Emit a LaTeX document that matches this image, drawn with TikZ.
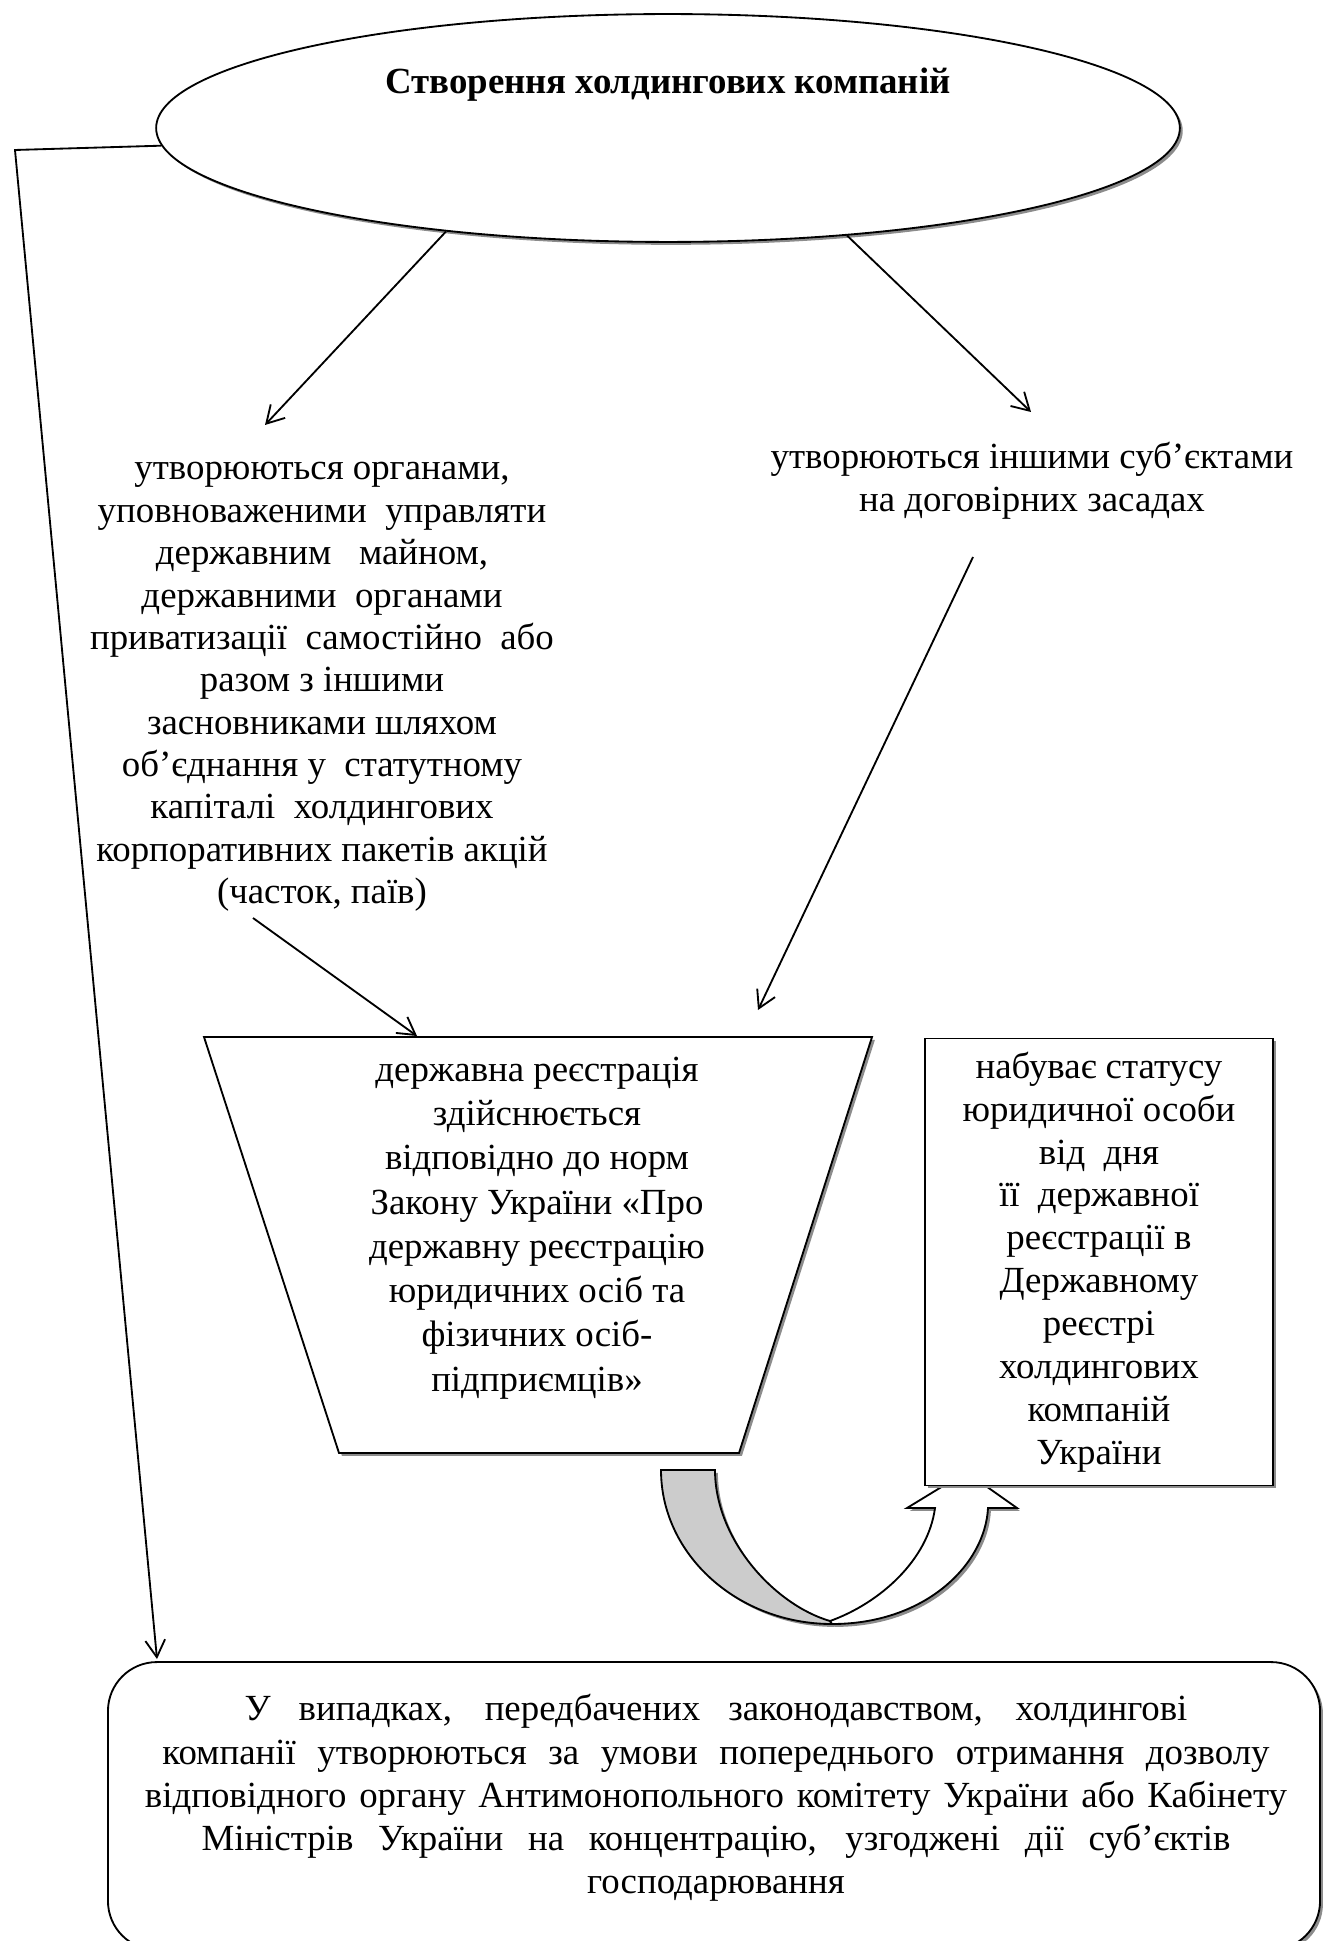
\documentclass[tikz,border=0pt]{standalone}
\usepackage{fontspec}
\setmainfont{Liberation Serif}
\usetikzlibrary{shapes.geometric,shadows,arrows.meta}

\begin{document}
\begin{tikzpicture}[x=0.38pt,y=-0.38pt,line width=0.7pt,
  txt/.style={align=center,font=\fontsize{14}{16.1}\selectfont},
  shad/.style={drop shadow={shadow xshift=1.1pt,shadow yshift=-1.1pt,fill=black!45,opacity=1}},
  arr/.style={-{Straight Barb[length=6.5pt,width=7.5pt]}}]
 \useasboundingbox (0,0) rectangle (1322,1941);
 \node[ellipse,draw,shad,fill=white,minimum width=389pt,minimum height=86.6pt] (create) at (668,128) {};
 \node[font=\fontsize{14}{16.1}\bfseries] (title) at (668,85) {Створення холдингових компаній};
 \node[txt] (lefttext) at (322,687) {утворюються органами,\\ уповноваженими~~управляти\\
   державним~~~майном,\\ державними~~органами\\ приватизації~~самостійно~~або\\
   разом з іншими\\ засновниками шляхом\\ об’єднання у~~статутному\\
   капіталі~~холдингових\\ корпоративних пакетів акцій\\ (часток, паїв)};
 \node[txt,font=\fontsize{14}{16.4}\selectfont] (righttext) at (1032,481) {утворюються іншими суб’єктами\\ на договірних засадах};
 \coordinate (lcorner) at (15,150);
 \coordinate (lt-in) at (265,425);
 \coordinate (rt-in) at (1031,412);
 \coordinate (lt-out) at (253,918);
 \coordinate (rt-out) at (973,557);
 \coordinate (reg-l) at (417,1036);
 \coordinate (reg-r) at (758,1010);
 \coordinate (law-in) at (157,1659);
 \draw[arr] (create.182) -- (lcorner) -- (law-in);
 \foreach \a/\b in {create.205/lt-in,create.329/rt-in,lt-out/reg-l,rt-out/reg-r}
   \draw[arr] (\a) -- (\b);
 \draw[shad,fill=white] (204,1037) -- (872,1037) -- (739,1453) -- (339,1453) -- cycle;
 \node[txt,font=\fontsize{14}{16.8}\selectfont] (reg) at (537,1228) {державна реєстрація\\ здійснюється\\
   відповідно до норм\\ Закону України «Про\\ державну реєстрацію\\ юридичних осіб та\\
   фізичних осіб-\\ підприємців»};
 \draw[shad,fill=black!20] (661,1470) -- (715,1470) .. controls (715,1540) and (775,1605) .. (830,1621)
   -- (832,1624) .. controls (738,1624) and (661,1555) .. (661,1470) -- cycle;
 \draw[shad,fill=white] (830,1621) .. controls (880,1603) and (928,1560) .. (935,1508) -- (907,1508)
   -- (966,1472) -- (1017,1508) -- (988,1508) .. controls (985,1565) and (925,1624) .. (832,1624) -- cycle;
 \node[txt,font=\fontsize{14}{16.3}\selectfont,draw,shad,fill=white,minimum width=132.2pt,minimum height=169.9pt]
   (status) at (1099,1262) {набуває статусу\\ юридичної особи\\ від~~дня\\ її~~державної\\ реєстрації в\\
   Державному\\ реєстрі\\ холдингових\\ компаній\\ України};
 \node[draw,shad,fill=white,rounded corners=18.6pt,minimum width=460.6pt,minimum height=109.4pt] (law) at (714,1806) {};
 \node[txt,font=\fontsize{14}{16.4}\selectfont] (lawtext) at (716,1798)
   {\makebox[358.3pt][s]{У випадках, передбачених законодавством, холдингові}\\
   \makebox[420.7pt][s]{компанії утворюються за умови попереднього отримання дозволу}\\
   \makebox[434pt][s]{відповідного органу Антимонопольного комітету України або Кабінету}\\
   \makebox[391pt][s]{Міністрів України на концентрацію, узгоджені дії суб’єктів}\\ господарювання};
\end{tikzpicture}
\end{document}
